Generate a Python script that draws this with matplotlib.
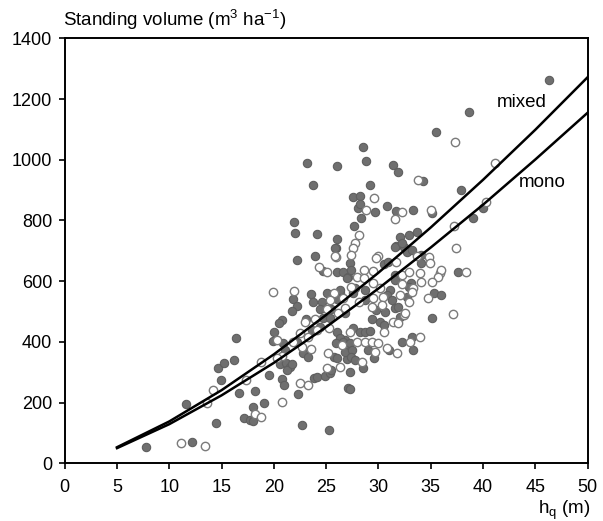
import matplotlib
matplotlib.use('Agg')
import matplotlib.pyplot as plt

plt.rcParams['font.family'] = ['Liberation Sans', 'DejaVu Sans']
plt.rcParams['mathtext.fontset'] = 'custom'
plt.rcParams['mathtext.rm'] = 'Liberation Sans'
plt.rcParams['mathtext.it'] = 'Liberation Sans'

# mixed stands (grey dots): height, volume
mixed_h = [7.8, 12.2, 11.6, 14.5, 14.9, 14.7, 15.2, 16.2, 16.4, 16.7, 17.1, 17.7,
           21.8, 22.2, 21.7, 23.5, 23.7, 24.6, 24.4, 25.1, 26.3, 26.0, 25.5, 20.8,
           20.5, 20.0, 19.9, 23.1, 24.7, 25.4, 24.4, 26.0, 23.6, 22.2, 22.8, 23.3,
           20.9, 21.1, 20.6, 21.2, 21.5, 21.3, 21.7, 19.5, 20.8, 21.0, 18.2, 19.1,
           22.3, 18.0, 18.0, 22.7, 25.3, 23.8, 24.1, 24.9, 25.4, 25.5, 25.7, 26.0,
           27.0, 26.8, 26.3, 27.0, 25.9, 27.1, 23.2, 26.0, 23.7, 21.9, 22.0, 24.1,
           26.0, 25.9, 22.2, 23.9, 24.7, 26.0, 26.6, 27.1, 28.5, 28.8, 31.4, 31.9,
           35.5, 38.7, 34.3, 29.2, 27.6, 28.2, 28.0, 28.2, 29.7, 30.8, 31.7, 33.3,
           35.1, 28.3, 27.7, 25.8, 27.3, 32.1, 32.9, 33.7, 31.7, 32.4, 32.7, 33.2,
           34.1, 34.1, 37.9, 30.5, 30.9, 31.6, 37.6, 27.4, 27.0, 31.6, 32.2, 35.3,
           36.0, 33.1, 32.9, 31.6, 31.1, 30.8, 31.3, 32.7, 31.6, 31.9, 32.1, 27.6,
           27.8, 28.7, 28.7, 29.8, 30.6, 26.3, 26.8, 29.4, 30.1, 30.5, 35.1, 27.6,
           28.2, 28.7, 29.2, 26.6, 27.3, 29.0, 26.8, 27.5, 27.4, 27.8, 28.5, 27.3,
           29.6, 31.0, 32.2, 33.2, 33.3, 27.3, 46.3, 40.0, 39.0]
mixed_v = [54, 70, 195, 133, 274, 314, 331, 341, 413, 231, 150, 143,
           541, 519, 502, 558, 531, 532, 508, 562, 562, 541, 508, 472,
           462, 433, 403, 475, 479, 479, 449, 433, 439, 400, 363, 350,
           396, 373, 327, 330, 318, 307, 327, 291, 278, 258, 239, 200,
           228, 186, 140, 126, 110, 281, 284, 288, 297, 307, 351, 347,
           344, 406, 413, 373, 397, 248, 990, 979, 916, 796, 758, 754,
           739, 708, 670, 683, 634, 631, 631, 614, 1043, 996, 983, 961,
           1090, 1158, 930, 917, 878, 881, 840, 854, 829, 848, 832, 834,
           823, 807, 782, 710, 659, 746, 752, 761, 717, 713, 697, 703,
           686, 659, 900, 656, 664, 620, 631, 637, 609, 713, 725, 560,
           554, 595, 582, 604, 571, 554, 538, 549, 511, 516, 483, 560,
           576, 571, 538, 505, 499, 571, 494, 474, 466, 456, 478, 445,
           433, 433, 437, 400, 395, 373, 368, 373, 351, 340, 313, 302,
           348, 373, 399, 415, 373, 245, 1264, 842, 807]

# mono stands (open dots): height, volume
mono_h = [11.1, 13.4, 13.6, 14.2, 17.3, 19.9, 21.9, 25.7, 25.4, 25.1, 26.1, 20.3,
          23.0, 23.9, 25.3, 24.1, 22.5, 23.3, 22.7, 21.8, 23.5, 20.8, 20.3, 18.8,
          20.8, 18.2, 18.8, 22.5, 23.3, 25.1, 25.2, 26.3, 26.5, 25.9, 24.3, 25.1,
          37.3, 33.8, 29.6, 28.8, 32.2, 31.6, 35.0, 28.1, 27.8, 25.8, 27.6, 27.4,
          30.0, 33.7, 34.8, 34.9, 37.2, 37.4, 31.7, 28.6, 29.5, 32.2, 32.9, 34.0,
          35.9, 38.4, 36.0, 27.9, 28.6, 29.8, 35.7, 35.1, 34.7, 34.1, 33.3, 32.2,
          30.1, 29.5, 30.4, 32.1, 33.2, 32.9, 32.4, 27.4, 28.1, 29.5, 30.3, 29.4,
          26.6, 26.8, 31.4, 31.9, 32.5, 27.3, 30.5, 27.9, 28.7, 29.4, 30.0, 28.4,
          29.7, 30.8, 31.8, 33.0, 34.0, 41.1, 40.3, 37.1]
mono_v = [67, 57, 199, 241, 276, 564, 568, 562, 538, 508, 496, 406,
          465, 475, 446, 439, 429, 417, 384, 400, 376, 353, 347, 335,
          203, 162, 152, 265, 258, 314, 364, 318, 390, 680, 648, 631,
          1059, 933, 875, 834, 827, 805, 834, 752, 725, 684, 708, 686,
          683, 683, 680, 659, 783, 708, 664, 637, 633, 620, 631, 626,
          626, 631, 637, 615, 609, 675, 615, 598, 545, 598, 576, 591,
          576, 593, 549, 554, 565, 532, 488, 582, 532, 543, 521, 516,
          543, 511, 466, 463, 494, 433, 433, 400, 400, 399, 395, 335,
          366, 379, 362, 399, 417, 990, 860, 492]

# model curves
curve_h = [5, 10, 15, 20, 25, 30, 35, 40, 45, 50]
curve_mixed = [53, 138, 241, 359, 489, 628, 777, 934, 1099, 1272]
curve_mono = [50, 129, 224, 331, 449, 576, 711, 852, 1001, 1155]

fig = plt.figure(figsize=(6.03, 5.21), dpi=100)
ax = fig.add_axes([0.1073, 0.1107, 0.8673, 0.8158])

ax.scatter(mixed_h, mixed_v, s=36, facecolor='#6f6f6f', edgecolor='#5f5f5f',
           linewidth=0.8, zorder=2)
ax.scatter(mono_h, mono_v, s=36, facecolor='white', edgecolor='#7a7a7a',
           linewidth=1.0, zorder=3)
ax.plot(curve_h, curve_mixed, color='black', lw=1.8, zorder=4)
ax.plot(curve_h, curve_mono, color='black', lw=1.8, zorder=4)

ax.text(43.7, 1187, 'mixed', fontsize=13.5, ha='center', va='center')
ax.text(45.7, 924, 'mono', fontsize=13.5, ha='center', va='center')

ax.set_xlim(0, 50)
ax.set_ylim(0, 1400)
ax.set_xticks(range(0, 51, 5))
ax.set_yticks(range(0, 1401, 200))
ax.tick_params(direction='out', length=4, width=1.2, labelsize=13)
ax.tick_params(axis='x', pad=7)
ax.tick_params(axis='y', pad=5)
for sp in ax.spines.values():
    sp.set_linewidth(1.4)

fig.text(0.105, 1 - 20 / 521,
         r'Standing volume (m$^{\mathregular{3}}$ ha$^{\mathregular{-1}}$)',
         fontsize=13.5, ha='left', va='center')
fig.text(0.98, 1 - 510 / 521, r'h$_{\mathregular{q}}$ (m)',
         fontsize=13.5, ha='right', va='center')

fig.savefig('out.png', dpi=100)
